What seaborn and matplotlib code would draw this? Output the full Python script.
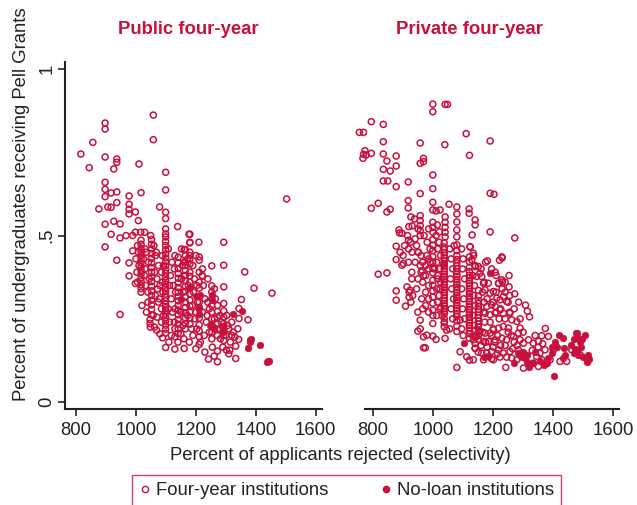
import matplotlib
matplotlib.use("Agg")
import matplotlib.pyplot as plt
from matplotlib.lines import Line2D
import seaborn as sns
import pandas as pd

RED = "#C8103C"
INK = "#222222"

panel_titles = ["Public four-year", "Private four-year"]
legend_labels = ["Four-year institutions", "No-loan institutions"]
x_ticks = [800, 1000, 1200, 1400, 1600]
y_ticks = [0, 0.5, 1]
y_tick_labels = ["0", ".5", "1"]
x_label = "Percent of applicants rejected (selectivity)"
y_label = "Percent of undergraduates receiving Pell Grants"

# (selectivity, share receiving Pell Grants) for public four-year institutions
public_all = [
    (1058, 0.862), (897, 0.838), (897, 0.820), (856, 0.780), (1058, 0.788), (816, 0.745),
    (897, 0.736), (936, 0.730), (936, 0.720), (1010, 0.715), (844, 0.704), (926, 0.700),
    (1099, 0.690), (897, 0.660), (897, 0.639), (917, 0.628), (936, 0.631), (897, 0.617),
    (1099, 0.637), (1017, 0.629), (977, 0.619), (936, 0.599), (876, 0.580), (906, 0.586),
    (917, 0.585), (977, 0.594), (977, 0.579), (1079, 0.586), (998, 0.571), (977, 0.565),
    (1099, 0.570), (1099, 0.551), (1008, 0.545), (897, 0.534), (926, 0.543), (947, 0.535),
    (1139, 0.527), (917, 0.504), (947, 0.493), (967, 0.500), (989, 0.500), (998, 0.510),
    (1016, 0.510), (1029, 0.510), (1049, 0.500), (1099, 0.520), (1099, 0.505), (1177, 0.504),
    (1503, 0.610), (1293, 0.480), (1210, 0.480), (1180, 0.480),
    (897, 0.466), (989, 0.454), (936, 0.426), (977, 0.418), (977, 0.379), (947, 0.263),
    (998, 0.356), (1363, 0.391), (1394, 0.342), (1454, 0.327), (1352, 0.308), (1344, 0.281),
    (1344, 0.251), (1374, 0.247), (1343, 0.188), (1333, 0.168), (1242, 0.129), (1272, 0.121),
    (1261, 0.138), (1272, 0.153), (1333, 0.131), (1313, 0.156), (1302, 0.156), (1253, 0.409),
    (1222, 0.378), (1253, 0.349), (1211, 0.173), (1089, 0.193), (1069, 0.216), (1099, 0.164),
    (1130, 0.159), (1161, 0.161), (1130, 0.196), (1047, 0.236), (1058, 0.261), (1047, 0.248),
    # selectivity bands
    (1017, 0.486), (1017, 0.474), (1017, 0.462), (1017, 0.451), (1017, 0.440), (1017, 0.430),
    (1017, 0.418), (1017, 0.407), (1017, 0.396), (1017, 0.385), (1017, 0.374), (1017, 0.363),
    (1017, 0.352), (1017, 0.341), (1017, 0.330),
    (1052, 0.488), (1052, 0.474), (1052, 0.460), (1052, 0.446), (1052, 0.432), (1052, 0.418),
    (1052, 0.404), (1052, 0.390), (1052, 0.376), (1052, 0.362), (1052, 0.348), (1052, 0.334),
    (1052, 0.320), (1052, 0.306), (1052, 0.292), (1052, 0.278), (1052, 0.262),
    (1099, 0.496), (1099, 0.482), (1099, 0.470), (1099, 0.457), (1099, 0.445), (1099, 0.433),
    (1099, 0.421), (1099, 0.409), (1099, 0.398), (1099, 0.387), (1099, 0.376), (1099, 0.365),
    (1099, 0.355), (1099, 0.344), (1099, 0.334), (1099, 0.324), (1099, 0.314), (1099, 0.304),
    (1099, 0.294), (1099, 0.284), (1099, 0.274), (1099, 0.264), (1099, 0.254), (1099, 0.243),
    (1099, 0.231), (1099, 0.219), (1099, 0.207),
    (1141, 0.435), (1141, 0.418), (1141, 0.401), (1141, 0.386), (1141, 0.372), (1141, 0.358),
    (1141, 0.344), (1141, 0.330), (1141, 0.317), (1141, 0.304), (1141, 0.290), (1141, 0.276),
    (1141, 0.262), (1141, 0.248), (1141, 0.234), (1141, 0.220), (1141, 0.206),
    (1165, 0.458), (1165, 0.440), (1165, 0.420), (1165, 0.410), (1165, 0.395), (1165, 0.380),
    (1165, 0.364), (1165, 0.348), (1165, 0.332), (1165, 0.316), (1165, 0.300), (1165, 0.284),
    (1165, 0.268), (1165, 0.252), (1165, 0.236), (1165, 0.220),
    (1180, 0.504), (1180, 0.478), (1180, 0.450), (1180, 0.440), (1180, 0.430), (1180, 0.415),
    (1180, 0.390), (1180, 0.378), (1180, 0.360), (1180, 0.342), (1180, 0.325), (1180, 0.306),
    (1180, 0.288), (1180, 0.270), (1180, 0.252), (1180, 0.234),
    (1211, 0.436), (1211, 0.426), (1211, 0.390), (1211, 0.360), (1211, 0.342), (1211, 0.300),
    (1211, 0.280), (1211, 0.252), (1211, 0.232), (1211, 0.214), (1211, 0.196),
    (1253, 0.330), (1253, 0.310), (1253, 0.290), (1253, 0.270), (1253, 0.250), (1253, 0.230),
    (1253, 0.210), (1253, 0.190),
    (1272, 0.290), (1272, 0.272), (1272, 0.254), (1272, 0.236), (1272, 0.218), (1272, 0.200),
    (1293, 0.411), (1293, 0.346), (1293, 0.296), (1293, 0.274), (1293, 0.255), (1293, 0.236),
    (1293, 0.218), (1293, 0.200), (1293, 0.185),
    # between the bands
    (1030, 0.460), (1065, 0.440), (1075, 0.410), (1085, 0.390), (1070, 0.370), (1080, 0.350),
    (1090, 0.330), (1065, 0.320), (1075, 0.300), (1085, 0.280), (1030, 0.400), (1032, 0.350),
    (1040, 0.300), (1035, 0.270), (1005, 0.360), (1003, 0.390), (1000, 0.430), (1008, 0.450),
    (1120, 0.420), (1115, 0.380), (1125, 0.350), (1118, 0.310), (1122, 0.270), (1128, 0.240),
    (1152, 0.460), (1155, 0.410), (1152, 0.370), (1158, 0.330), (1150, 0.270), (1157, 0.230),
    (1190, 0.410), (1195, 0.370), (1192, 0.330), (1188, 0.290), (1197, 0.250), (1185, 0.220),
    (1222, 0.400), (1225, 0.350), (1230, 0.310), (1222, 0.270), (1235, 0.240), (1228, 0.200),
    (1240, 0.370), (1262, 0.340), (1265, 0.310), (1245, 0.280), (1262, 0.250), (1280, 0.220),
    (1282, 0.190), (1303, 0.260), (1306, 0.230), (1300, 0.200), (1320, 0.240), (1325, 0.210),
    (1315, 0.180), (1330, 0.195), (1110, 0.180), (1160, 0.190), (1178, 0.180), (1200, 0.160),
    (1230, 0.150), (1255, 0.165), (1290, 0.165), (1310, 0.145), (1020, 0.290), (1062, 0.225),
    (1080, 0.205), (1140, 0.180), (1161, 0.458), (1161, 0.420), (1161, 0.380), (1221, 0.380),
    (1005, 0.470), (1010, 0.410), (1025, 0.430), (1028, 0.380), (1035, 0.450), (1042, 0.420),
    (1045, 0.370), (1040, 0.330), (1060, 0.470), (1068, 0.450), (1062, 0.390), (1072, 0.340),
    (1078, 0.310), (1088, 0.440), (1092, 0.410), (1088, 0.360), (1092, 0.260), (1085, 0.240),
    (1108, 0.460), (1112, 0.350), (1108, 0.280), (1112, 0.240), (1130, 0.440), (1128, 0.400),
    (1132, 0.330), (1130, 0.280), (1130, 0.220), (1172, 0.430), (1175, 0.350), (1172, 0.260),
    (1200, 0.440), (1203, 0.350), (1205, 0.300), (1200, 0.270), (1203, 0.220), (1240, 0.300),
    (1238, 0.260), (1245, 0.210), (1262, 0.220), (1280, 0.260), (1285, 0.240), (1310, 0.220),
    (1320, 0.200), (1340, 0.220), (1048, 0.225), (1070, 0.255), (1118, 0.200), (1150, 0.205),
    (1190, 0.200), (1215, 0.180),
]

public_noloan = [
    (1323, 0.264), (1354, 0.273), (1380, 0.186), (1385, 0.189), (1374, 0.163), (1380, 0.179),
    (1414, 0.171), (1436, 0.119), (1444, 0.124), (1440, 0.122), (1253, 0.322), (1253, 0.308),
    (1211, 0.285), (1211, 0.265), (1290, 0.228), (1290, 0.210), (1247, 0.231), (1258, 0.226),
    (1150, 0.310), (1180, 0.345), (1213, 0.322), (1202, 0.320),
]

# (selectivity, share receiving Pell Grants) for private four-year institutions
private_all = [
    (999, 0.895), (1040, 0.894), (1048, 0.894), (999, 0.872), (794, 0.842), (834, 0.834),
    (754, 0.810), (768, 0.810), (1110, 0.806), (834, 0.782), (957, 0.778), (1039, 0.773),
    (1190, 0.784), (1121, 0.741), (773, 0.755), (768, 0.744), (766, 0.732), (777, 0.742),
    (794, 0.747), (834, 0.745), (877, 0.739), (968, 0.732), (968, 0.722), (957, 0.717),
    (846, 0.724), (834, 0.699), (857, 0.694), (877, 0.709), (999, 0.682), (834, 0.664),
    (849, 0.664), (917, 0.661), (877, 0.647), (999, 0.641), (957, 0.626), (1190, 0.627),
    (1203, 0.624), (817, 0.597), (794, 0.582), (846, 0.571), (857, 0.579), (917, 0.605),
    (917, 0.583), (999, 0.600), (999, 0.577), (1010, 0.574), (1023, 0.577), (1053, 0.594),
    (1079, 0.586), (1079, 0.565), (1079, 0.541), (1079, 0.517), (1079, 0.496), (1120, 0.580),
    (1120, 0.567), (1140, 0.547), (1140, 0.532), (1130, 0.502), (1040, 0.556), (1040, 0.540),
    (1040, 0.525), (1040, 0.510), (1040, 0.496), (957, 0.560), (957, 0.545), (957, 0.530),
    (957, 0.515), (957, 0.500), (926, 0.556), (938, 0.550), (919, 0.527), (930, 0.529),
    (886, 0.517), (896, 0.507), (999, 0.540), (999, 0.525), (999, 0.510), (1014, 0.532),
    (1021, 0.511), (1190, 0.511), (1272, 0.493), (1123, 0.466),
    (817, 0.384), (846, 0.388), (877, 0.468), (877, 0.428), (877, 0.334), (877, 0.306),
    (896, 0.411), (908, 0.288), (920, 0.330), (920, 0.315), (926, 0.300), (932, 0.320),
    (949, 0.270), (957, 0.220), (949, 0.213), (968, 0.196), (979, 0.201), (999, 0.198),
    (1010, 0.188), (968, 0.163), (974, 0.163), (1040, 0.191), (1079, 0.104), (1090, 0.151),
    (1112, 0.136), (1121, 0.126), (1140, 0.161), (888, 0.508), (918, 0.486), (918, 0.460),
    (918, 0.420), (901, 0.416), (929, 0.390), (929, 0.370), (913, 0.346), (923, 0.336),
    (951, 0.450), (957, 0.410), (963, 0.395), (968, 0.380), (979, 0.440), (990, 0.420),
    (1005, 0.400), (1015, 0.370), (1023, 0.340), (957, 0.246), (999, 0.276), (999, 0.260),
    (999, 0.236), (1023, 0.280), (1030, 0.260), (1038, 0.240), (1045, 0.216), (1090, 0.246),
    (1095, 0.220), (1100, 0.200), (1140, 0.216), (1140, 0.196), (1140, 0.176),
    # selectivity bands
    (999, 0.488), (999, 0.471), (999, 0.455), (999, 0.437), (999, 0.420), (999, 0.401),
    (999, 0.388), (999, 0.366), (999, 0.351), (999, 0.334), (999, 0.315), (999, 0.297),
    (1037, 0.478), (1037, 0.466), (1037, 0.458), (1037, 0.449), (1037, 0.441), (1037, 0.433),
    (1037, 0.424), (1037, 0.416), (1037, 0.409), (1037, 0.400), (1037, 0.392), (1037, 0.384),
    (1037, 0.376), (1037, 0.369), (1037, 0.361), (1037, 0.352), (1037, 0.344), (1037, 0.337),
    (1037, 0.329), (1037, 0.321), (1037, 0.313), (1037, 0.305), (1037, 0.296), (1037, 0.289),
    (1037, 0.281), (1037, 0.272), (1037, 0.264), (1037, 0.251), (1037, 0.238), (1037, 0.226),
    (1079, 0.472), (1079, 0.455), (1079, 0.440), (1079, 0.428), (1079, 0.418), (1079, 0.409),
    (1079, 0.401), (1079, 0.392), (1079, 0.384), (1079, 0.377), (1079, 0.368), (1079, 0.360),
    (1079, 0.353), (1079, 0.345), (1079, 0.337), (1079, 0.329), (1079, 0.321), (1079, 0.314),
    (1079, 0.306), (1079, 0.298), (1079, 0.290), (1079, 0.282), (1079, 0.274), (1079, 0.266),
    (1079, 0.258), (1079, 0.244), (1079, 0.228), (1079, 0.212),
    (1121, 0.436), (1121, 0.421), (1121, 0.405), (1121, 0.392), (1121, 0.381), (1121, 0.373),
    (1121, 0.365), (1121, 0.357), (1121, 0.349), (1121, 0.341), (1121, 0.333), (1121, 0.326),
    (1121, 0.318), (1121, 0.310), (1121, 0.302), (1121, 0.294), (1121, 0.286), (1121, 0.278),
    (1121, 0.270), (1121, 0.262), (1121, 0.254), (1121, 0.246), (1121, 0.238), (1121, 0.230),
    (1121, 0.222), (1121, 0.214), (1121, 0.205), (1121, 0.192),
    (1151, 0.335), (1151, 0.318), (1151, 0.305), (1151, 0.296), (1151, 0.287), (1151, 0.278),
    (1151, 0.270), (1151, 0.261), (1151, 0.252), (1151, 0.243), (1151, 0.234), (1151, 0.225),
    (1151, 0.214), (1151, 0.200), (1151, 0.188),
    # between the bands
    (940, 0.490), (945, 0.470), (950, 0.450), (960, 0.440), (965, 0.420), (975, 0.410),
    (985, 0.430), (990, 0.460), (980, 0.480), (970, 0.500), (950, 0.520), (985, 0.520),
    (1010, 0.500), (1020, 0.480), (1015, 0.460), (1025, 0.440), (1012, 0.420), (1022, 0.400),
    (1015, 0.380), (1025, 0.360), (1012, 0.340), (1020, 0.320), (1015, 0.300), (1025, 0.285),
    (1012, 0.260), (985, 0.400), (975, 0.380), (965, 0.360), (985, 0.350), (975, 0.330),
    (962, 0.310), (985, 0.310), (975, 0.290), (965, 0.280), (985, 0.270), (960, 0.390),
    (950, 0.370), (945, 0.340), (940, 0.420), (930, 0.450), (925, 0.480), (915, 0.500),
    (905, 0.470), (900, 0.440), (890, 0.450), (1055, 0.460), (1060, 0.430), (1065, 0.400),
    (1058, 0.370), (1062, 0.340), (1068, 0.310), (1060, 0.280), (1065, 0.250), (1055, 0.220),
    (1070, 0.470), (1095, 0.460), (1100, 0.430), (1098, 0.400), (1105, 0.370), (1095, 0.340),
    (1102, 0.310), (1098, 0.280), (1105, 0.250), (1135, 0.440), (1140, 0.410), (1132, 0.380),
    (1138, 0.350), (1135, 0.320), (1140, 0.290), (1132, 0.260), (1138, 0.230), (1135, 0.200),
    (1165, 0.330), (1170, 0.300), (1168, 0.270), (1172, 0.240), (1165, 0.210), (1175, 0.180),
    (1190, 0.240), (1200, 0.220), (1195, 0.200), (1205, 0.180), (1215, 0.200), (1220, 0.250),
    (1240, 0.250), (1250, 0.210), (1260, 0.200), (1270, 0.180), (1265, 0.160), (1280, 0.170),
    (1240, 0.170), (1225, 0.170), (1200, 0.165), (1180, 0.165), (1160, 0.170), (1150, 0.150),
    (1195, 0.130), (1215, 0.145), (1245, 0.135), (1290, 0.140), (1330, 0.155), (1350, 0.165),
    (1365, 0.175), (1340, 0.200), (1300, 0.210), (1290, 0.250), (1270, 0.280), (1285, 0.300),
    (1250, 0.300), (1240, 0.330), (1230, 0.340), (1210, 0.330), (1200, 0.300), (1210, 0.270),
    (1225, 0.280), (1255, 0.270), (1180, 0.310), (1170, 0.360), (1160, 0.400), (1175, 0.420),
    (1195, 0.400), (1210, 0.380), (1240, 0.360), (1255, 0.320),
    # upper-selectivity scatter
    (1123, 0.467), (1134, 0.447), (1129, 0.427), (1140, 0.407), (1151, 0.407), (1156, 0.387),
    (1145, 0.377), (1162, 0.377), (1168, 0.357), (1184, 0.357), (1173, 0.337), (1190, 0.327),
    (1201, 0.332), (1218, 0.357), (1229, 0.367), (1212, 0.312), (1223, 0.307), (1234, 0.317),
    (1245, 0.302), (1195, 0.292), (1207, 0.287), (1179, 0.287), (1173, 0.267), (1190, 0.262),
    (1207, 0.267), (1223, 0.277), (1234, 0.267), (1256, 0.267), (1262, 0.247), (1279, 0.242),
    (1290, 0.222), (1284, 0.207), (1251, 0.222), (1234, 0.227), (1218, 0.222), (1201, 0.217),
    (1190, 0.207), (1173, 0.207), (1156, 0.212), (1145, 0.197), (1134, 0.187), (1168, 0.182),
    (1184, 0.182), (1207, 0.187), (1229, 0.192), (1245, 0.187), (1268, 0.197), (1290, 0.187),
    (1301, 0.177), (1318, 0.187), (1334, 0.177), (1351, 0.182), (1362, 0.199), (1384, 0.197),
    (1373, 0.157), (1356, 0.147), (1345, 0.137), (1334, 0.117), (1284, 0.157), (1256, 0.152),
    (1234, 0.147), (1218, 0.157), (1195, 0.152), (1179, 0.147), (1162, 0.147), (1140, 0.162),
    (1134, 0.127), (1168, 0.127), (1201, 0.127), (1223, 0.135), (1262, 0.132), (1279, 0.127),
    (1301, 0.102), (1351, 0.107), (1362, 0.127), (1423, 0.122), (1445, 0.122), (1490, 0.142),
    (1462, 0.157), (1401, 0.157), (1390, 0.127), (1242, 0.104), (1308, 0.291), (1314, 0.273),
    (1321, 0.256), (1374, 0.221), (1229, 0.436), (1221, 0.426), (1181, 0.424), (1207, 0.390),
    (1253, 0.380), (1253, 0.346), (1272, 0.325), (1231, 0.361), (1218, 0.356), (1230, 0.433),
]

private_noloan = [
    (1407, 0.181), (1412, 0.166), (1434, 0.191), (1437, 0.161), (1440, 0.141), (1479, 0.206),
    (1484, 0.191), (1490, 0.181), (1493, 0.166), (1479, 0.156), (1468, 0.146), (1501, 0.136),
    (1512, 0.131), (1514, 0.121), (1434, 0.131), (1396, 0.146), (1379, 0.116), (1403, 0.079),
    (1312, 0.141), (1307, 0.131), (1318, 0.106), (1268, 0.116), (1334, 0.116), (1477, 0.208),
    (1496, 0.188), (1474, 0.160), (1480, 0.150), (1484, 0.140), (1512, 0.126), (1396, 0.166),
    (1368, 0.111), (1320, 0.111), (1312, 0.121), (1282, 0.146), (1296, 0.136), (1171, 0.136),
    (1184, 0.138), (1104, 0.176), (1190, 0.388), (1034, 0.416), (1518, 0.130), (1515, 0.140),
    (1505, 0.200), (1470, 0.190), (1460, 0.172), (1420, 0.200), (1383, 0.132), (1355, 0.122),
    (1340, 0.150), (1300, 0.150),
]


def to_frame(points):
    return pd.DataFrame(points, columns=["selectivity", "pell"])


panels = [
    (to_frame(public_all), to_frame(public_noloan)),
    (to_frame(private_all), to_frame(private_noloan)),
]

sns.set_theme(style="ticks")
plt.rcParams["font.family"] = ["Liberation Sans", "DejaVu Sans"]
plt.rcParams["text.color"] = INK
plt.rcParams["axes.edgecolor"] = INK
plt.rcParams["xtick.color"] = INK
plt.rcParams["ytick.color"] = INK

FS = 13.3

fig = plt.figure(figsize=(6.37, 5.05), dpi=100)
ax_pub = fig.add_axes([0.102, 0.190, 0.403, 0.687])
ax_pri = fig.add_axes([0.573, 0.190, 0.399, 0.687])
axes = [ax_pub, ax_pri]
xlims = [(763, 1620), (773, 1620)]

for ax, (df_all, df_noloan), xl in zip(axes, panels, xlims):
    sns.scatterplot(data=df_all, x="selectivity", y="pell", ax=ax, marker="o", s=19,
                    facecolor="none", edgecolor=RED, linewidth=1.1, legend=False,
                    zorder=3, clip_on=False)
    sns.scatterplot(data=df_noloan, x="selectivity", y="pell", ax=ax, marker="o", s=22,
                    color=RED, edgecolor=RED, linewidth=0.5, legend=False, zorder=4,
                    clip_on=False)
    ax.set_xlim(*xl)
    ax.set_ylim(-0.021, 1.021)
    ax.set_xticks(x_ticks)
    ax.set_xticklabels([str(t) for t in x_ticks])
    ax.set_xlabel("")
    ax.set_ylabel("")
    ax.tick_params(axis="x", length=5, width=1.2, labelsize=FS, pad=4)
    for side in ["top", "right"]:
        ax.spines[side].set_visible(False)
    ax.spines["bottom"].set_linewidth(1.5)
    ax.spines["left"].set_linewidth(1.5)

ax_pub.set_yticks(y_ticks)
ax_pub.set_yticklabels(y_tick_labels)
ax_pub.tick_params(axis="y", length=5, width=1.2, labelsize=FS, pad=2)
for lab in ax_pub.get_yticklabels():
    lab.set_rotation(90)
    lab.set_va("center")

ax_pri.spines["left"].set_visible(False)
ax_pri.set_yticks([])

fig.text(188 / 637, 1 - 30 / 505, panel_titles[0], ha="center", va="center",
         fontsize=FS, fontweight="bold", color=RED)
fig.text(469 / 637, 1 - 30 / 505, panel_titles[1], ha="center", va="center",
         fontsize=FS, fontweight="bold", color=RED)

fig.text(22 / 637, 1 - 204 / 505, y_label, rotation=90, ha="center", va="center",
         fontsize=FS)
fig.text(340 / 637, 1 - 455 / 505, x_label, ha="center", va="center", fontsize=FS)

handles = [
    Line2D([], [], marker="o", linestyle="none", markerfacecolor="none",
           markeredgecolor=RED, markeredgewidth=1.0, markersize=4.5),
    Line2D([], [], marker="o", linestyle="none", markerfacecolor=RED,
           markeredgecolor=RED, markersize=4.5),
]
leg = fig.legend(handles, legend_labels, loc="upper center", ncol=2,
                 bbox_to_anchor=(0.544, 1 - 475 / 505), frameon=True, fancybox=False,
                 fontsize=FS, handlelength=0.6, handletextpad=0.3, columnspacing=2.8,
                 borderpad=0.4, borderaxespad=0)
leg.get_frame().set_edgecolor(RED)
leg.get_frame().set_linewidth(1.0)

fig.savefig("out.png", dpi=100)
